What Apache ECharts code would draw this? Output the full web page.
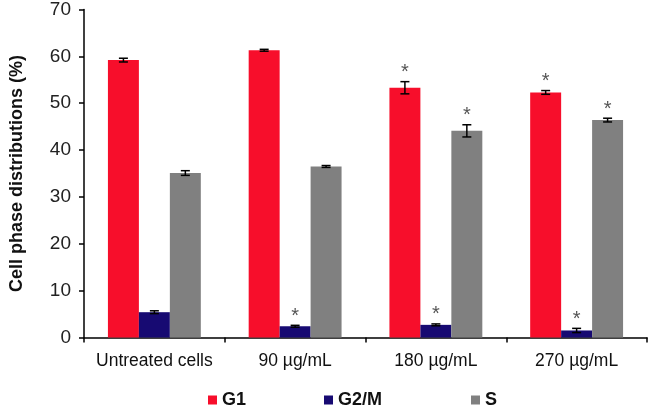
<!DOCTYPE html>
<html>
<head>
<meta charset="utf-8">
<script src="https://cdn.jsdelivr.net/npm/echarts@6/dist/echarts.min.js"></script>
<style>html,body{margin:0;padding:0;background:#fff}#c{width:650px;height:410px}</style>
</head>
<body>
<div id="c"></div>
<script>
var categories = ['Untreated cells', '90 µg/mL', '180 µg/mL', '270 µg/mL'];
var seriesNames = ['G1', 'G2/M', 'S'];
var g1 = [59.2, 61.3, 53.3, 52.3];
var g2m = [5.4, 2.4, 2.7, 1.5];
var s = [35.1, 36.5, 44.1, 46.4];
var g1Err = [0.4, 0.2, 1.3, 0.4];
var g2mErr = [0.3, 0.2, 0.2, 0.45];
var sErr = [0.5, 0.2, 1.3, 0.4];
var g1Sig = [0, 0, 1, 1];
var g2mSig = [0, 1, 1, 1];
var sSig = [0, 0, 1, 1];
var yTicks = {min: 0, max: 70, interval: 10};

var colors = ['#F70E2B', '#170A72', '#808080'];
var values = [g1, g2m, s];
var errs = [g1Err, g2mErr, sErr];
var sigs = [g1Sig, g2mSig, sSig];
var FONT = '"Liberation Sans", Arial, sans-serif';

var series = [];
seriesNames.forEach(function (name, p) {
  series.push({
    name: name, type: 'bar', data: values[p], barWidth: '22%', barGap: '0%',
    itemStyle: {color: colors[p]}
  });
});
seriesNames.forEach(function (name, p) {
  series.push({
    name: name + ' err', type: 'custom', z: 10, silent: true,
    data: categories.map(function (c, i) { return [i, values[p][i], errs[p][i], sigs[p][i]]; }),
    renderItem: function (params, api) {
      var idx = api.value(0), v = api.value(1), e = api.value(2), sg = api.value(3);
      var bandW = api.size([1, 0])[0];
      var cx = api.coord([idx, v])[0] + (p - 1) * bandW * 0.22;
      var yT = api.coord([idx, v + e])[1];
      var yB = api.coord([idx, v - e])[1];
      var st = {stroke: '#000', lineWidth: 1.5};
      var ch = [
        {type: 'line', shape: {x1: cx, y1: yT, x2: cx, y2: yB}, style: st},
        {type: 'line', shape: {x1: cx - 4.5, y1: yT, x2: cx + 4.5, y2: yT}, style: st},
        {type: 'line', shape: {x1: cx - 4.5, y1: yB, x2: cx + 4.5, y2: yB}, style: st}
      ];
      if (sg) {
        ch.push({type: 'text', style: {text: '*', x: cx, y: yT - 9, align: 'center', verticalAlign: 'middle',
          font: '20px ' + FONT, fill: '#555'}});
      }
      return {type: 'group', children: ch};
    }
  });
});

function leg(name, left) {
  return {data: [name], left: left, top: 391, padding: 0, icon: 'rect', itemWidth: 9, itemHeight: 9, itemGap: 5,
    textStyle: {fontFamily: FONT, fontSize: 18, fontWeight: 'bold', color: '#111', padding: [0, 0, 0, 0]}};
}

var option = {
  animation: false,
  backgroundColor: '#fff',
  grid: {left: 82, right: 3, top: 9.5, bottom: 72.5},
  legend: [leg('G1', 208), leg('G2/M', 324), leg('S', 471)],
  xAxis: {
    type: 'category', data: categories,
    axisLine: {lineStyle: {color: '#000', width: 1.5}},
    axisTick: {show: true, length: 5, lineStyle: {color: '#000', width: 1.5}},
    axisLabel: {interval: 0, margin: 15, fontFamily: FONT, fontSize: 17.5, color: '#111'}
  },
  yAxis: {
    type: 'value', min: yTicks.min, max: yTicks.max, interval: yTicks.interval,
    name: 'Cell phase distributions (%)', nameLocation: 'middle', nameGap: 58,
    nameTextStyle: {fontFamily: FONT, fontSize: 18, fontWeight: 'bold', color: '#111'},
    axisLine: {show: true, lineStyle: {color: '#000', width: 1.5}},
    axisTick: {show: true, length: 5, lineStyle: {color: '#000', width: 1.5}},
    splitLine: {show: false},
    axisLabel: {margin: 13, fontFamily: FONT, fontSize: 19, color: '#222'}
  },
  series: series
};
echarts.init(document.getElementById('c')).setOption(option);
</script>
</body>
</html>
